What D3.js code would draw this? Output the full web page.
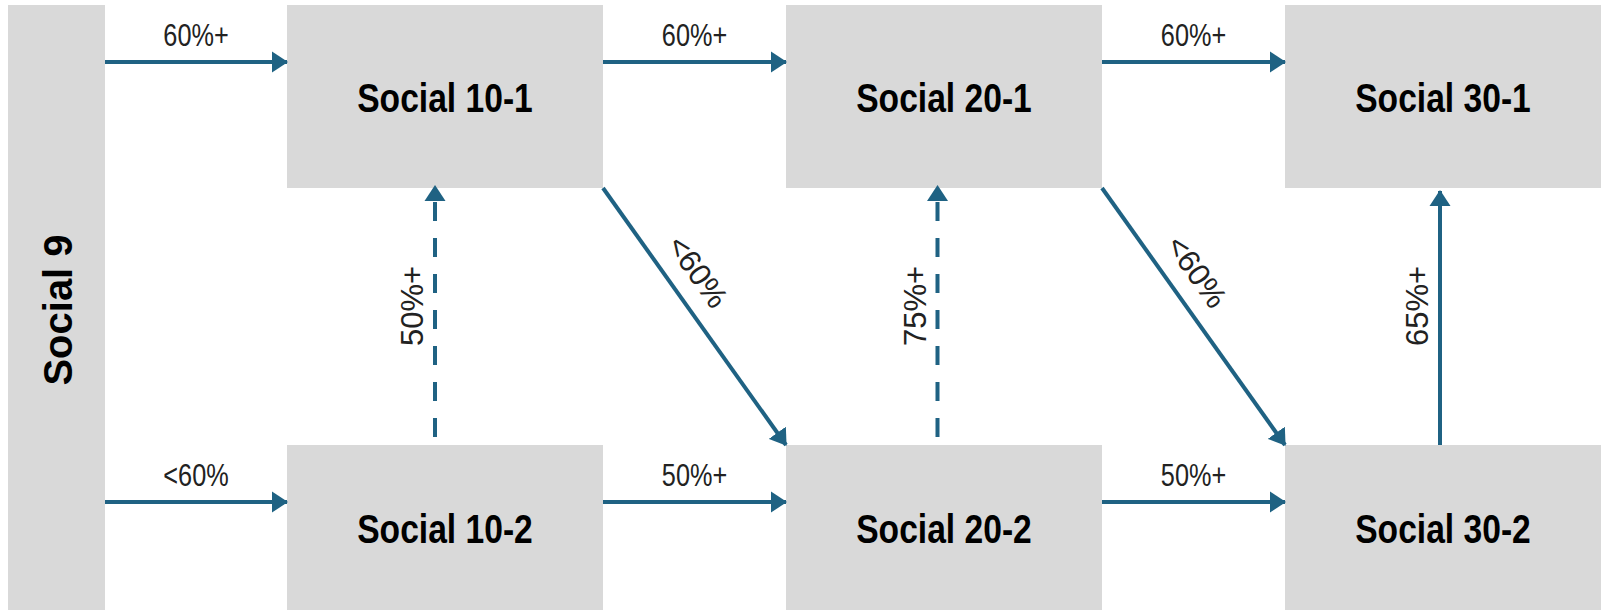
<!DOCTYPE html>
<html>
<head>
<meta charset="utf-8">
<script src="https://cdn.jsdelivr.net/npm/d3@7"></script>
<style>
body{margin:0;background:#fff;}
#main_div{width:1605px;height:613px;}
</style>
</head>
<body>
<div id="main_div"></div>
<script>
// courses: column 0 is Social 9 (spans both rows), row 0 = "-1" stream, row 1 = "-2" stream
let courses=["Social 9","Social 10-1","Social 20-1","Social 30-1","Social 10-2","Social 20-2","Social 30-2"];
let courseCol=[0,1,2,3,1,2,3];
let courseRow=[-1,0,0,0,1,1,1];

// pathways (index into courses)
let linkFrom =[0,0,1,2,4,5,4,5,6,1,2];
let linkTo   =[1,4,2,3,5,6,1,2,3,5,6];
let linkLabel=["60%+","<60%","60%+","60%+","50%+","50%+","50%+","75%+","65%+","<60%","<60%"];
let linkDashed=[false,false,false,false,false,false,true,true,false,false,false];

let size=[1605,613];
let boxFill="#d9d9d9";
let arrowColor="#1f6283";
let boxW=316;
let xScale,yTop,yBot,vScale;

render();

function render(){
    createSVG();
    makeScales();
    drawBoxes();
    drawLinks();
}

function createSVG(){
    let svg=d3.select("#main_div")
        .append("svg")
        .attr("width",size[0])
        .attr("height",size[1])
        .attr("id","main_svg");

    svg.append("defs")
        .append("marker")
        .attr("id","head")
        .attr("markerUnits","userSpaceOnUse")
        .attr("viewBox","0 -11 16 22")
        .attr("markerWidth",16)
        .attr("markerHeight",22)
        .attr("refX",15)
        .attr("refY",0)
        .attr("orient","auto")
        .append("path")
        .attr("d","M0,-10.5L16,0L0,10.5Z")
        .attr("fill",arrowColor);
}

function makeScales(){
    /**box left edge by column, box top/bottom by row */
    xScale=d3.scaleLinear().domain([1,3]).range([287,1285]);
    yTop=d3.scaleOrdinal().domain([-1,0,1]).range([5,5,445]);
    yBot=d3.scaleOrdinal().domain([-1,0,1]).range([610,188,610]);
    /**x of the upward arrows */
    vScale=d3.scaleLinear().domain([1,3]).range([435,1440]);
}

function boxLeft(i){ return courseCol[i]==0 ? 8 : xScale(courseCol[i]); }
function boxRight(i){ return courseCol[i]==0 ? 105 : xScale(courseCol[i])+boxW; }

function drawBoxes(){
    let g=d3.select("#main_svg").append("g").attr("id","boxes");
    let idx=d3.range(courses.length);

    g.selectAll("rect")
        .data(idx)
        .enter()
        .append("rect")
        .attr("x",d=>boxLeft(d))
        .attr("y",d=>yTop(courseRow[d]))
        .attr("width",d=>boxRight(d)-boxLeft(d))
        .attr("height",d=>yBot(courseRow[d])-yTop(courseRow[d]))
        .attr("fill",boxFill);

    /**course names */
    g.selectAll("text")
        .data(idx)
        .enter()
        .append("text")
        .text(d=>courses[d])
        .attr("text-anchor","middle")
        .attr("fill","#000")
        .style("font-family","'Liberation Sans',Arial,sans-serif")
        .style("font-weight","bold")
        .style("font-size",d=>courseCol[d]==0?"40px":"41px")
        .attr("transform",function(d){
            let cx=(boxLeft(d)+boxRight(d))/2;
            if(courseCol[d]==0) return "translate("+(cx+15)+",310) rotate(-90)";
            let cy=(yTop(courseRow[d])+yBot(courseRow[d]))/2;
            return "translate("+cx+","+(cy+15)+") scale(0.82,1)";
        });
}

function linkGeom(k){
    let s=linkFrom[k], t=linkTo[k];
    if(courseCol[s]==courseCol[t]){
        /**vertical, upward */
        let x=vScale(courseCol[s]);
        let y1=yTop(courseRow[s]);
        let y2=yBot(courseRow[t])+(linkDashed[k]?-2:3);
        return {type:"v",x1:x,y1:linkDashed[k]?y1-8:y1,x2:x,y2:y2};
    }
    if(courseRow[t]==courseRow[s] || courseCol[s]==0){
        let y=yTop(courseRow[t])+57;
        return {type:"h",x1:boxRight(s),y1:y,x2:boxLeft(t),y2:y};
    }
    /**diagonal from bottom-right corner to top-left corner */
    return {type:"d",x1:boxRight(s),y1:yBot(courseRow[s]),x2:boxLeft(t),y2:yTop(courseRow[t])};
}

function drawLinks(){
    let g=d3.select("#main_svg").append("g").attr("id","links");
    let idx=d3.range(linkFrom.length);
    let geo=idx.map(linkGeom);

    g.selectAll("path")
        .data(idx)
        .enter()
        .append("path")
        .attr("d",d=>"M"+geo[d].x1+","+geo[d].y1+"L"+geo[d].x2+","+geo[d].y2)
        .attr("stroke",arrowColor)
        .attr("stroke-width",4)
        .attr("fill","none")
        .attr("stroke-dasharray",d=>linkDashed[d]?"19,17":null)
        .attr("marker-end","url(#head)");

    /**labels */
    g.selectAll("text")
        .data(idx)
        .enter()
        .append("text")
        .text(d=>linkLabel[d])
        .attr("text-anchor","middle")
        .attr("fill","#222")
        .style("font-family","'Liberation Sans',Arial,sans-serif")
        .style("font-size",d=>geo[d].type=="h"?"32px":"31px")
        .attr("transform",function(d){
            let p=geo[d];
            if(p.type=="h"){
                return "translate("+((p.x1+p.x2)/2)+","+(p.y1-16)+") scale(0.79,1)";
            }
            if(p.type=="v"){
                return "translate("+(p.x1-12)+",306) rotate(-90)";
            }
            let dx=p.x2-p.x1, dy=p.y2-p.y1, len=Math.sqrt(dx*dx+dy*dy);
            let ux=dx/len, uy=dy/len;
            let t=0.39*len, off=18;
            let x=p.x1+ux*t+uy*off, y=p.y1+uy*t-ux*off;
            let ang=Math.atan2(dy,dx)*180/Math.PI;
            return "translate("+x+","+y+") rotate("+ang+")";
        });
}
</script>
</body>
</html>
